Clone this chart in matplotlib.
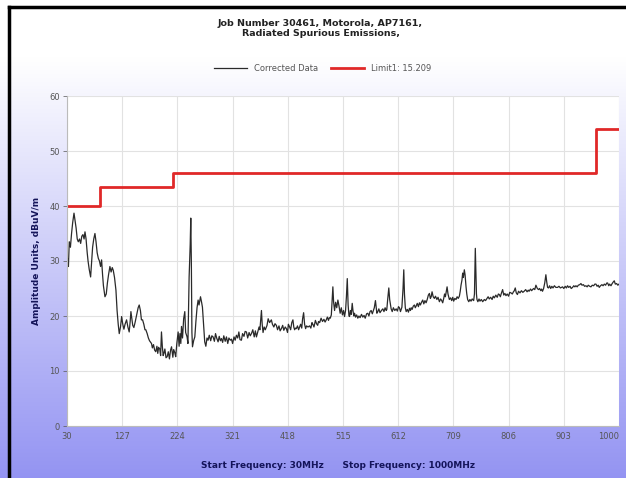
import numpy as np
import matplotlib.pyplot as plt
from matplotlib.lines import Line2D

# ---- data ----
freq = [30.0, 31.0, 32.5, 34.0, 36.0, 38.0, 40.0, 42.3, 44.0, 46.0, 48.0, 49.8, 52.0, 54.0, 56.0, 58.0,
        60.0, 61.6, 63.5, 65.5, 67.0, 69.0, 71.5, 73.0, 75.0, 77.0, 79.1, 81.0, 83.0, 85.0, 87.0, 89.0,
        90.8, 92.5, 94.0, 96.7, 99.0, 101.0, 103.0, 105.4, 107.5, 109.5, 111.3, 113.5, 116.0, 118.0,
        120.0, 121.8, 124.0, 126.0, 128.0, 130.0, 132.0, 134.7, 137.0, 139.3, 141.0, 142.3, 144.0,
        145.5, 147.5, 150.0, 153.0, 155.0, 156.9, 159.0, 160.8, 162.8, 165.0, 167.0, 168.5, 170.9,
        173.0, 175.0, 178.5, 180.0, 182.0, 184.0, 186.0, 188.0, 189.5, 191.0, 193.0, 194.5, 196.0,
        197.5, 199.0, 200.5, 202.0, 204.0, 206.0, 208.0, 210.0, 212.0, 213.7, 216.0, 217.5, 219.5,
        221.0, 223.0, 225.3, 227.0, 228.5, 230.0, 231.2, 233.0, 235.0, 237.0, 238.5, 241.0, 242.5,
        244.6, 246.5, 247.5, 248.5, 249.5, 250.5, 252.5, 254.6, 256.5, 258.5, 260.4, 262.0, 264.6,
        266.5, 268.0, 270.0, 272.0, 274.0, 276.0, 277.9, 280.0, 282.5, 284.5, 286.7, 289.0, 291.0,
        293.0, 295.5, 297.5, 299.5, 301.4, 303.5, 305.5, 308.0, 310.2, 312.5, 314.5, 317.0, 319.0,
        321.0, 323.5, 325.5, 327.7, 330.0, 332.0, 334.0, 336.5, 338.5, 341.0, 343.0, 345.3, 347.5,
        350.0, 352.0, 354.1, 356.5, 359.0, 361.0, 362.9, 365.0, 367.5, 369.0, 370.5, 371.7, 373.0,
        374.5, 376.5, 378.5, 381.5, 383.5, 386.0, 389.1, 391.0, 393.5, 395.5, 397.9, 400.0, 402.5,
        404.5, 406.7, 409.0, 411.0, 413.5, 415.5, 417.5, 419.0, 421.2, 423.0, 425.0, 427.0, 428.5,
        430.0, 431.5, 433.0, 435.0, 437.0, 438.8, 440.5, 442.5, 444.0, 445.8, 447.5, 449.3, 451.0,
        453.5, 456.3, 458.5, 460.5, 462.0, 464.0, 466.5, 468.5, 470.5, 472.0, 474.0, 476.5, 479.0,
        481.5, 483.5, 485.6, 487.5, 489.5, 491.0, 492.6, 494.5, 496.0, 497.2, 498.5, 500.2, 502.0,
        504.0, 506.0, 508.0, 510.0, 512.0, 514.0, 516.0, 517.7, 519.5, 521.0, 522.5, 524.0, 525.5,
        526.5, 528.0, 529.5, 531.2, 532.5, 534.0, 535.3, 537.0, 539.0, 541.0, 543.0, 545.0, 547.5,
        549.8, 552.0, 554.0, 556.5, 558.6, 560.5, 562.5, 564.5, 566.5, 568.5, 570.0, 572.0, 573.5,
        574.5, 576.2, 578.0, 580.0, 582.5, 585.0, 587.0, 589.0, 591.0, 592.0, 593.5, 595.5, 597.0,
        599.6, 601.5, 603.5, 606.0, 608.4, 610.5, 612.5, 614.2, 616.0, 618.5, 620.5, 621.8, 623.0,
        624.5, 626.0, 628.0, 630.0, 631.8, 633.5, 634.8, 636.5, 638.5, 640.5, 642.0, 643.5, 645.5,
        647.5, 649.3, 651.0, 653.0, 655.1, 657.0, 659.0, 661.0, 663.0, 665.0, 666.8, 668.5, 670.0,
        671.5, 673.5, 675.6, 677.5, 680.0, 682.0, 684.4, 686.5, 688.5, 690.2, 692.0, 693.5, 694.9,
        696.5, 697.9, 699.5, 701.9, 704.0, 706.0, 707.8, 709.5, 711.5, 713.6, 715.5, 717.5, 719.5,
        721.0, 722.4, 724.0, 725.3, 726.5, 728.2, 729.5, 731.2, 732.5, 734.0, 736.0, 738.0, 740.0,
        742.0, 744.6, 746.0, 747.0, 747.5, 748.5, 749.5, 750.4, 752.0, 754.0, 755.7, 758.0, 760.5,
        763.3, 765.5, 768.0, 770.0, 772.0, 774.5, 777.0, 779.0, 781.0, 783.5, 786.0, 788.0, 789.7,
        791.5, 793.5, 795.5, 797.5, 799.5, 801.4, 803.5, 806.0, 808.0, 810.2, 812.5, 814.5, 816.0,
        817.7, 819.5, 821.5, 823.5, 826.0, 828.5, 831.0, 833.3, 836.0, 838.5, 840.5, 842.0, 844.5,
        846.5, 848.0, 850.0, 852.0, 854.0, 856.5, 858.6, 860.5, 862.5, 864.0, 865.6, 867.5, 869.5,
        871.5, 873.0, 874.5, 876.2, 878.0, 880.0, 882.0, 884.0, 886.5, 889.0, 892.0, 894.5, 897.0,
        900.8, 903.0, 905.5, 907.5, 909.6, 911.5, 914.0, 916.0, 918.4, 920.5, 922.5, 924.3, 926.5,
        928.5, 931.0, 933.1, 935.0, 937.5, 939.5, 941.9, 944.0, 946.0, 948.5, 950.7, 953.0, 955.5,
        957.5, 959.5, 961.5, 963.5, 965.3, 967.5, 970.0, 972.0, 974.2, 976.5, 978.5, 980.0, 982.0,
        983.5, 985.9, 988.0, 990.0, 991.7, 993.5, 995.8, 998.0, 1000.0]

amp = [28.5, 30.5, 29.0, 33.5, 32.5, 35.0, 37.0, 38.7, 37.5, 36.0, 34.0, 33.5, 34.0, 33.2, 34.5, 34.8,
       34.0, 35.3, 34.0, 31.5, 30.0, 28.5, 27.1, 29.5, 32.5, 34.0, 35.0, 33.5, 31.5, 30.5, 30.0, 29.0,
       30.2, 27.5, 25.5, 23.5, 24.0, 26.0, 27.5, 29.0, 28.0, 28.8, 28.3, 27.0, 24.7, 21.0,
       18.5, 16.8, 18.0, 19.9, 18.5, 17.6, 18.5, 19.3, 18.0, 17.1, 19.0, 20.8, 19.5,
       18.3, 17.9, 19.0, 20.5, 21.5, 22.0, 21.0, 19.3, 19.3, 18.5, 17.5, 17.5, 16.8,
       16.0, 15.5, 15.0, 14.2, 14.8, 13.8, 13.5, 14.5, 13.2, 14.3, 14.0, 12.8, 17.1,
       14.5, 12.8, 13.3, 14.0, 12.4, 12.6, 13.5, 12.2, 13.8, 14.4, 12.5, 13.9, 13.3,
       12.6, 15.0, 17.1, 14.5, 16.8, 15.0, 18.1, 16.0, 19.5, 20.8, 17.0, 16.2, 15.0,
       27.1, 33.0, 37.8, 30.0, 17.0, 14.4, 15.5, 16.2, 19.0, 21.5, 22.9, 22.0, 23.5,
       22.5, 21.6, 18.5, 15.3, 14.5, 16.0, 15.6, 16.5, 15.5, 16.4, 16.2, 15.4, 16.8,
       16.0, 15.3, 16.3, 15.5, 15.9, 15.2, 16.4, 15.4, 16.2, 15.0, 16.0, 15.6, 15.8,
       15.0, 16.2, 15.6, 16.5, 16.0, 17.1, 15.7, 15.6, 16.8, 16.3, 17.2, 17.1, 16.0,
       17.0, 16.4, 16.8, 17.5, 16.2, 17.3, 16.2, 17.0, 18.0, 17.5, 19.5, 21.0, 18.5,
       17.0, 18.0, 17.5, 18.3, 19.5, 18.8, 19.3, 18.5, 18.0, 18.6, 18.3, 17.5, 18.2,
       17.3, 17.7, 18.3, 17.4, 18.0, 17.7, 17.0, 18.5, 18.0, 17.5, 18.8, 19.3, 18.0,
       17.5, 17.8, 17.7, 18.2, 17.5, 18.0, 18.5, 17.8, 19.5, 20.6, 18.5, 17.7, 18.2,
       18.0, 18.2, 17.8, 18.8, 18.5, 18.0, 19.2, 18.6, 18.3, 19.0, 18.8, 19.6, 19.0,
       19.4, 18.9, 19.3, 19.8, 19.2, 19.7, 19.6, 20.2, 23.0, 25.3, 22.5, 21.0, 22.5,
       21.5, 22.9, 21.8, 20.5, 21.5, 20.2, 21.0, 19.9, 21.0, 23.5, 26.8, 22.0, 20.0,
       19.9, 21.0, 20.3, 22.3, 21.0, 20.0, 20.5, 19.8, 20.2, 19.6, 20.0, 19.7, 20.3,
       19.8, 20.1, 19.6, 20.4, 20.5, 20.0, 20.8, 21.0, 20.4, 21.0, 21.5, 22.8, 21.5,
       20.5, 20.8, 21.3, 20.6, 21.0, 21.3, 20.8, 21.5, 21.0, 21.2, 23.0, 25.1, 23.0,
       21.3, 20.8, 21.5, 21.0, 21.3, 20.9, 21.7, 21.5, 20.8, 21.6, 25.0, 28.4, 24.0,
       21.5, 20.8, 21.2, 20.7, 21.4, 21.0, 21.5, 21.2, 21.8, 22.0, 21.5, 21.8, 22.3,
       21.7, 22.4, 22.0, 22.5, 22.9, 22.2, 22.8, 22.4, 23.0, 23.8, 24.1, 23.2, 23.5,
       24.4, 23.5, 23.2, 23.6, 23.0, 23.4, 22.6, 23.1, 22.8, 22.4, 23.2, 24.0, 23.5,
       24.5, 25.3, 24.0, 23.0, 23.3, 22.8, 23.4, 22.7, 23.2, 23.0, 23.5, 23.2, 23.6,
       24.5, 25.6, 26.5, 27.8, 27.0, 28.4, 27.5, 25.3, 24.0, 23.0, 22.6, 23.0, 22.7,
       23.1, 22.8, 24.0, 30.0, 32.3, 28.0, 24.0, 23.0, 22.6, 23.1, 22.7, 23.0, 22.6,
       23.0, 22.8, 23.2, 23.5, 23.1, 23.4, 23.0, 23.6, 23.3, 23.8, 23.4, 24.0, 23.9,
       23.5, 24.2, 24.8, 23.8, 24.1, 23.7, 24.0, 23.6, 24.3, 24.2, 24.0, 24.4, 24.6,
       25.1, 24.2, 23.9, 24.5, 24.2, 24.6, 24.3, 24.5, 24.8, 24.4, 24.7, 24.5, 24.9,
       24.6, 24.8, 25.0, 24.8, 25.6, 25.0, 24.8, 25.0, 24.6, 24.9, 24.5, 25.0, 26.0,
       27.5, 26.2, 25.2, 25.1, 25.5, 25.0, 25.4, 25.1, 25.5, 25.2, 25.2, 25.4, 25.1,
       25.3, 25.0, 25.4, 25.1, 25.5, 25.2, 25.4, 25.0, 25.2, 25.5, 25.3, 25.5, 25.3,
       25.6, 25.7, 25.9, 25.6, 25.7, 25.4, 25.5, 25.3, 25.6, 25.4, 25.3, 25.6, 25.5,
       25.8, 25.8, 25.4, 25.6, 25.2, 25.5, 25.7, 25.5, 25.8, 25.6, 26.0, 26.0, 25.5,
       25.8, 25.5, 25.9, 26.2, 26.4, 25.8, 25.9, 25.6, 25.8]

limit_freq = [30, 88, 216, 960, 1000]
limit_db = [40, 43.5, 46, 54, 54]

xticks = [30, 127, 224, 321, 418, 515, 612, 709, 806, 903, 1000]
yticks = [0, 10, 20, 30, 40, 50, 60]

navy = '#14145a'

fig = plt.figure(figsize=(6.26, 4.78), dpi=100)

# background: white at the top fading to periwinkle at the bottom
bg = fig.add_axes([0, 0, 1, 1], zorder=-10)
t = np.linspace(0, 1, 256)[:, None]
t = np.clip((t - 0.12) / 0.88, 0, 1)
top = np.array([1.0, 1.0, 1.0])
bot = np.array([0.58, 0.58, 0.95])
grad = top[None, None, :] * (1 - t[..., None]) + bot[None, None, :] * t[..., None]
grad = np.repeat(grad, 2, axis=1)
bg.imshow(grad, aspect='auto', extent=[0, 1, 0, 1], origin='upper')
bg.axis('off')

# dark frame on top and left edges (screenshot border)
x0, y1 = 9 / 626, 1 - 7 / 478
fig.lines.append(Line2D([x0, 1], [y1, y1], transform=fig.transFigure, color='black', lw=2.5))
fig.lines.append(Line2D([x0, x0], [0, y1], transform=fig.transFigure, color='black', lw=2.5))

ax = fig.add_axes([67 / 626, 52 / 478, 552 / 626, 330 / 478])
ax.set_facecolor('white')
ax.plot(freq, amp, color='#2a2a2a', lw=0.9, label='Corrected Data')
ax.plot(limit_freq, limit_db, color='#e02828', lw=2, drawstyle='steps-post', label='Limit1: 15.209')

ax.set_xlim(30, 1000)
ax.set_ylim(0, 60)
ax.set_xticks(xticks)
ax.set_yticks(yticks)
ax.tick_params(labelsize=6, colors='#555555', length=3, width=0.5, pad=2)
ax.tick_params(axis='x', length=0, pad=4)
ax.get_xticklabels()[-1].set_horizontalalignment('right')
ax.grid(True, color='#e2e2e2', lw=0.8)
for s in ['top', 'right']:
    ax.spines[s].set_visible(False)
for s in ['left', 'bottom']:
    ax.spines[s].set_color('#bbbbbb')
    ax.spines[s].set_linewidth(0.8)

ax.set_ylabel('Amplitude Units, dBuV/m', fontsize=6.5, fontweight='bold', color=navy, labelpad=6)
fig.text(0.54, 0.027, 'Start Frequency: 30MHz      Stop Frequency: 1000MHz',
         ha='center', va='center', fontsize=6.5, fontweight='bold', color=navy)

fig.text(0.512, 0.94, 'Job Number 30461, Motorola, AP7161,\nRadiated Spurious Emissions,',
         ha='center', va='center', fontsize=6.8, fontweight='bold', color='#222222', linespacing=1.2)

fig.legend(loc='center', bbox_to_anchor=(0.515, 0.857), ncol=2, frameon=False, fontsize=6,
           handlelength=4, columnspacing=1.5, labelcolor='#555555')

fig.savefig('out.png', dpi=100)
